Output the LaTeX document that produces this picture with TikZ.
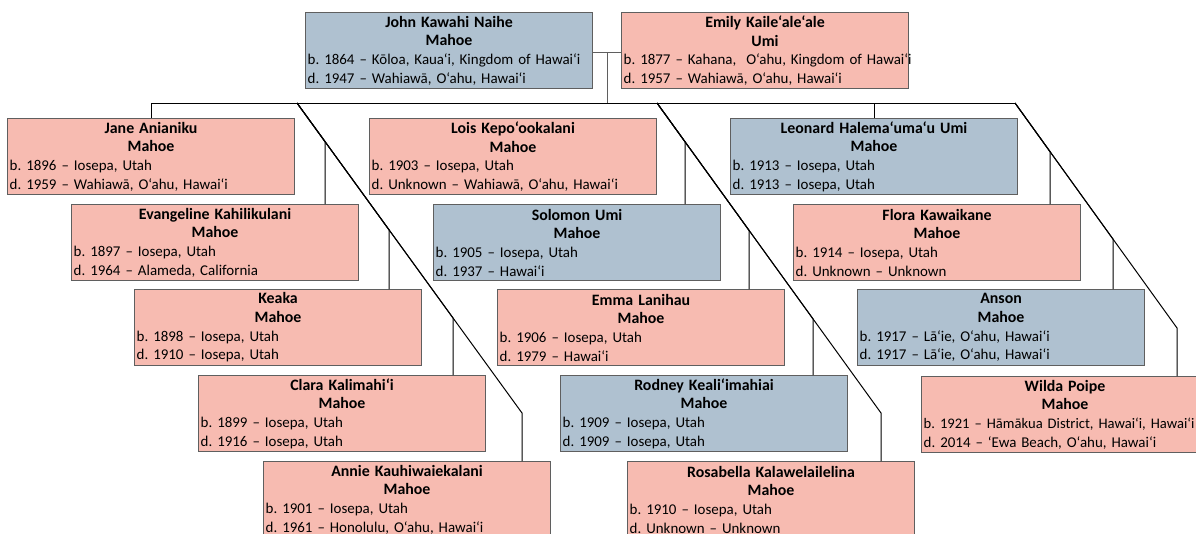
\documentclass[tikz,border=0pt]{standalone}
\usepackage{fontspec}
\setmainfont{Carlito}
\frenchspacing
\definecolor{pinkbox}{HTML}{F7BBB1}
\definecolor{bluebox}{HTML}{AFC1D0}
\definecolor{edgegray}{HTML}{5F5F5F}
\tikzset{
  pbox/.style={draw=edgegray, line width=0.8pt, rectangle, anchor=north west,
    minimum width=215.25pt, minimum height=57pt, text width=212pt,
    inner xsep=1.6pt, inner ysep=0pt,
    font=\fontsize{11.2}{14}\selectfont},
  conn/.style={draw=black, line width=0.75pt},
}
\newcommand\pbx[8]{\node[pbox,fill=#4] (#1) at (#2,#3) {\setlength{\parindent}{0pt}\frenchspacing{\centering\fontsize{11.9}{14}\selectfont\bfseries #5\par #6\par}\raggedright\mbox{#7}\par\mbox{#8}\par};}
\begin{document}
\begin{tikzpicture}[x=0.75pt,y=-0.75pt]
\useasboundingbox (0,0) rectangle (1196,533);
\fill[white] (0,0) rectangle (1196,533);
% connectors
\coordinate (stemtop) at (607,52);
\coordinate (stembot) at (607,103);
\coordinate (lstart) at (297,103);
\coordinate (mstart) at (657,103);
\coordinate (rstart) at (1015,103);
\coordinate (l1) at (325,141.6);
\coordinate (l2) at (389,229.8);
\coordinate (l3) at (453,318);
\coordinate (l4) at (522,413);
\coordinate (m1) at (685,141.8);
\coordinate (m2) at (749,230.3);
\coordinate (m3) at (813,318.9);
\coordinate (m4) at (881,413);
\coordinate (r1) at (1050,151.6);
\coordinate (r2) at (1113,239.1);
\coordinate (r3) at (1177,328);
% people
\pbx{john}{305}{12}{bluebox}{John Kawahi Naihe}{Mahoe}{b. 1864 – Kōloa, Kaua‘i, Kingdom of Hawai‘i}{d. 1947 – Wahiawā, O‘ahu, Hawai‘i}
\pbx{emily}{621}{12}{pinkbox}{Emily Kaile‘ale‘ale}{Umi}{b. 1877 – Kahana, \ O‘ahu, Kingdom of Hawai‘i}{d. 1957 – Wahiawā, O‘ahu, Hawai‘i}
\pbx{jane}{7}{118}{pinkbox}{Jane Anianiku}{Mahoe}{b. 1896 – Iosepa, Utah}{d. 1959 – Wahiawā, O‘ahu, Hawai‘i}
\pbx{evangeline}{71}{204}{pinkbox}{Evangeline Kahilikulani}{Mahoe}{b. 1897 – Iosepa, Utah}{d. 1964 – Alameda, California}
\pbx{keaka}{134}{289}{pinkbox}{Keaka}{Mahoe}{b. 1898 – Iosepa, Utah}{d. 1910 – Iosepa, Utah}
\pbx{clara}{198}{375}{pinkbox}{Clara Kalimahi‘i}{Mahoe}{b. 1899 – Iosepa, Utah}{d. 1916 – Iosepa, Utah}
\pbx{annie}{263}{461}{pinkbox}{Annie Kauhiwaiekalani}{Mahoe}{b. 1901 – Iosepa, Utah}{d. 1961 – Honolulu, O‘ahu, Hawai‘i}
\pbx{lois}{369}{118}{pinkbox}{Lois Kepo‘ookalani}{Mahoe}{b. 1903 – Iosepa, Utah}{d. Unknown – Wahiawā, O‘ahu, Hawai‘i}
\pbx{solomon}{433}{204}{bluebox}{Solomon Umi}{Mahoe}{b. 1905 – Iosepa, Utah}{d. 1937 – Hawai‘i}
\pbx{emma}{497}{289}{pinkbox}{Emma Lanihau}{Mahoe}{b. 1906 – Iosepa, Utah}{d. 1979 – Hawai‘i}
\pbx{rodney}{560}{375}{bluebox}{Rodney Keali‘imahiai}{Mahoe}{b. 1909 – Iosepa, Utah}{d. 1909 – Iosepa, Utah}
\pbx{rosabella}{627}{461}{pinkbox}{Rosabella Kalawelailelina}{Mahoe}{b. 1910 – Iosepa, Utah}{d. Unknown – Unknown}
\pbx{leonard}{730}{118}{bluebox}{Leonard Halema‘uma‘u Umi}{Mahoe}{b. 1913 – Iosepa, Utah}{d. 1913 – Iosepa, Utah}
\pbx{flora}{793}{204}{pinkbox}{Flora Kawaikane}{Mahoe}{b. 1914 – Iosepa, Utah}{d. Unknown – Unknown}
\pbx{anson}{857}{289}{bluebox}{Anson}{Mahoe}{b. 1917 – Lā‘ie, O‘ahu, Hawai‘i}{d. 1917 – Lā‘ie, O‘ahu, Hawai‘i}
\pbx{wilda}{921}{376}{pinkbox}{Wilda Poipe}{Mahoe}{{\fontsize{10.95}{14}\selectfont b. 1921 – Hāmākua District, Hawai‘i, Hawai‘i}}{d. 2014 – ‘Ewa Beach, O‘ahu, Hawai‘i}
% parent connectors
\draw[conn, draw=edgegray] (john.east |- stemtop) -- (emily.west |- stemtop);
\draw[conn, draw=edgegray] (stemtop) -- (stembot);
\draw[conn] (jane.north) |- (rstart);
\draw[conn] (stembot -| leonard.north) -- (leonard.north);
% left column
\draw[conn] (lstart) -- (l1) -- (l1 |- evangeline.north);
\draw[conn] (lstart) -- (l2) -- (l2 |- keaka.north);
\draw[conn] (lstart) -- (l3) -- (l3 |- clara.north);
\draw[conn] (lstart) -- (l4) -- (l4 |- annie.north);
% middle column
\draw[conn] (mstart) -- (m1) -- (m1 |- solomon.north);
\draw[conn] (mstart) -- (m2) -- (m2 |- emma.north);
\draw[conn] (mstart) -- (m3) -- (m3 |- rodney.north);
\draw[conn] (mstart) -- (m4) -- (m4 |- rosabella.north);
% right column
\draw[conn] (rstart) -- (r1) -- (r1 |- flora.north);
\draw[conn] (rstart) -- (r2) -- (r2 |- anson.north);
\draw[conn] (rstart) -- (r3) -- (r3 |- wilda.north);
\end{tikzpicture}
\end{document}
